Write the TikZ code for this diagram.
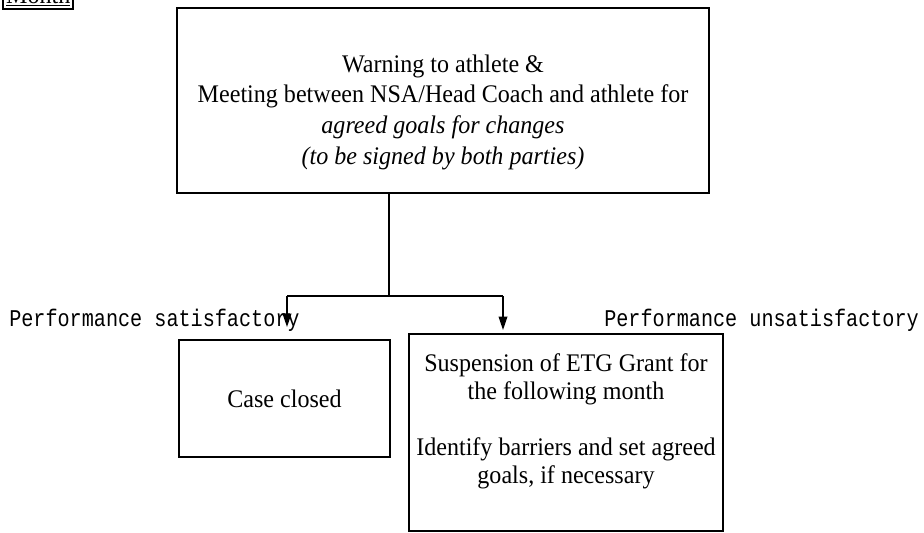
\documentclass[tikz,border=0pt]{standalone}
\usepackage{fontspec}
\setmainfont{Liberation Serif}[FakeStretch=0.95]
\newfontfamily\labelfont{Liberation Mono}[FakeStretch=0.84]
\usetikzlibrary{arrows.meta}

\begin{document}
\begin{tikzpicture}[x=0.75pt,y=-0.75pt,
    box/.style={draw=black,line width=0.9pt,inner sep=0pt,align=center},
    link/.style={line width=1.3pt},
    arrow/.style={line width=1pt,-{Triangle[length=10pt,width=6.5pt]}}]
  \useasboundingbox (0,0) rectangle (924,532);
  % tag at the top, cut by the page
  \node[draw=black,line width=1.5pt,inner sep=2pt,anchor=south east,font=\fontsize{19}{21}\selectfont] (month) at (74,10) {\underline{Month}};
  % first step
  \node[box,minimum width=399pt,minimum height=138.75pt] (warn) at (443,100.5) {};
  \node[align=center,font=\fontsize{19}{23}\selectfont] (warntext) at (443,112) {Warning to athlete \&\\
    Meeting between NSA/Head Coach and athlete for\\
    \textit{agreed goals for changes}\\
    \textit{(to be signed by both parties)}};
  % outcomes
  \node[box,minimum width=158.25pt,minimum height=87.75pt,font=\fontsize{19}{21}\selectfont] (closed) at (284.5,398.5) {Case closed};
  \node[box,minimum width=235.5pt,minimum height=147.75pt,font=\fontsize{19}{21}\selectfont] (suspend) at (566,432.5) {Suspension of ETG Grant for\\
    the following month\\[21pt]
    Identify barriers and set agreed\\
    goals, if necessary\\
    \mbox{}};
  \node[font=\labelfont\fontsize{18}{20}\selectfont,anchor=base west,inner sep=0pt] (goodlabel) at (9,326) {Performance satisfactory};
  \node[font=\labelfont\fontsize{18}{20}\selectfont,anchor=base west,inner sep=0pt] (badlabel) at (604,326) {Performance unsatisfactory};
  % connectors
  \coordinate (split) at (389,296);
  \coordinate (good) at (287,296);
  \coordinate (bad) at (503,296);
  \coordinate (goodtip) at (287,327);
  \coordinate (badtip) at (503,330);
  \draw[link] (warn.south -| split) -- (split);
  \draw[link] (good) -- (bad);
  \draw[arrow] (good) -- (goodtip);
  \draw[arrow] (bad) -- (badtip);
\end{tikzpicture}
\end{document}
